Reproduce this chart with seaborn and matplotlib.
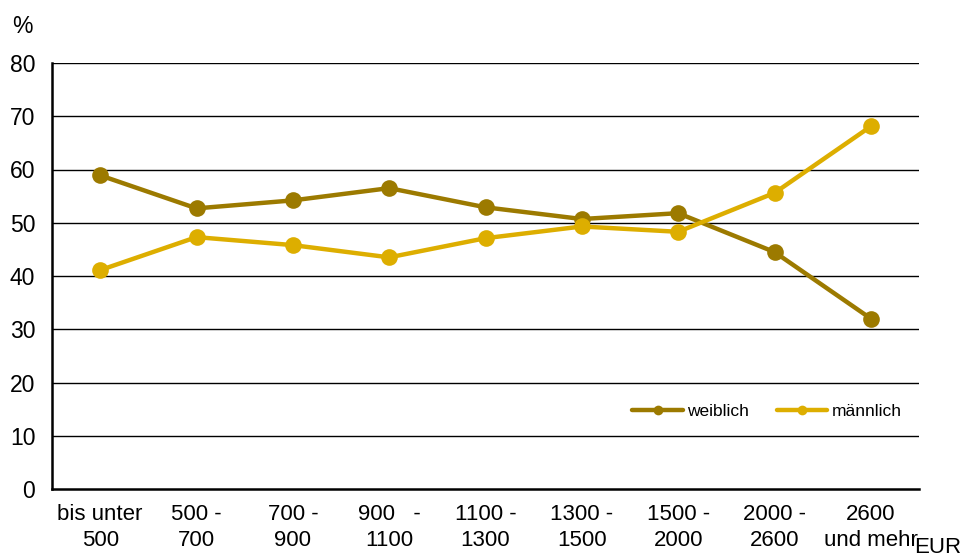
import numpy as np
import pandas as pd
import matplotlib
matplotlib.use("Agg")
import matplotlib.pyplot as plt
from matplotlib.lines import Line2D
import seaborn as sns

categories = ["bis unter\n500", "500 -\n700", "700 -\n900", "900   -\n1100", "1100 -\n1300",
              "1300 -\n1500", "1500 -\n2000", "2000 -\n2600", "2600\nund mehr"]
weiblich = [58.9, 52.7, 54.2, 56.5, 52.9, 50.7, 51.8, 44.5, 32.0]
maennlich = [41.1, 47.3, 45.8, 43.5, 47.1, 49.3, 48.3, 55.6, 68.1]
series_names = ["weiblich", "männlich"]
colors = {"weiblich": "#9C7A00", "männlich": "#DDAE00"}
y_ticks = [0, 10, 20, 30, 40, 50, 60, 70, 80]

pos = np.arange(len(categories))
df = pd.DataFrame({
    "x": np.concatenate([pos, pos]),
    "value": weiblich + maennlich,
    "Geschlecht": [series_names[0]] * len(pos) + [series_names[1]] * len(pos),
})

sns.set_style("white")
plt.rcParams["font.family"] = ["Liberation Sans", "DejaVu Sans"]
plt.rcParams["text.color"] = "black"
plt.rcParams["xtick.color"] = "black"
plt.rcParams["ytick.color"] = "black"
plt.rcParams["xtick.labelcolor"] = "black"
plt.rcParams["ytick.labelcolor"] = "black"

fig = plt.figure(figsize=(9.63, 5.59), dpi=100)
ax = fig.add_axes([52 / 963, 1 - 489 / 559, (919 - 52) / 963, (489 - 63) / 559])

for y in y_ticks[1:]:
    ax.axhline(y, color="black", lw=1.0, zorder=0)

sns.lineplot(data=df, x="x", y="value", hue="Geschlecht", palette=colors,
             marker="o", markersize=12, markeredgewidth=0, linewidth=3.2,
             legend=False, ax=ax, zorder=3)

ax.set_xlim(-0.5, len(categories) - 0.5)
ax.set_ylim(0, 80)
ax.set_yticks(y_ticks)
ax.set_yticklabels([str(v) for v in y_ticks], fontsize=16.5, color="black")
ax.set_xticks(pos)
ax.set_xticklabels(categories, fontsize=16, linespacing=1.3, color="black")
ax.set_xticks(np.arange(-0.5, len(categories), 1.0), minor=True)
ax.tick_params(axis="x", which="major", length=0, pad=11)
ax.tick_params(axis="x", which="minor", length=7, width=1.2, color="black", direction="out")
ax.tick_params(axis="y", length=7, width=1.2, color="black", direction="out", pad=5)
ax.set_xlabel("")
ax.set_ylabel("")

for s in ["top", "right"]:
    ax.spines[s].set_visible(False)
for s in ["left", "bottom"]:
    ax.spines[s].set_color("black")
    ax.spines[s].set_linewidth(1.8)

handles = [Line2D([0], [0], color=colors[n], lw=3.2, marker="o", markersize=7, markeredgewidth=0)
           for n in series_names]
leg = ax.legend(handles, series_names, loc="center", ncol=2, frameon=False, fontsize=12.5,
                handlelength=2.9, handletextpad=0.25, columnspacing=1.6,
                bbox_to_anchor=(767 / 963, 1 - 411 / 559), bbox_transform=fig.transFigure)
for t in leg.get_texts():
    t.set_color("black")

fig.text(12 / 963, 1 - 33 / 559, "%", fontsize=16.5, ha="left", va="baseline", color="black")
fig.text(914 / 963, 1 - 553 / 559, "EUR", fontsize=16, ha="left", va="baseline", color="black")

fig.savefig("out.png", dpi=100)
